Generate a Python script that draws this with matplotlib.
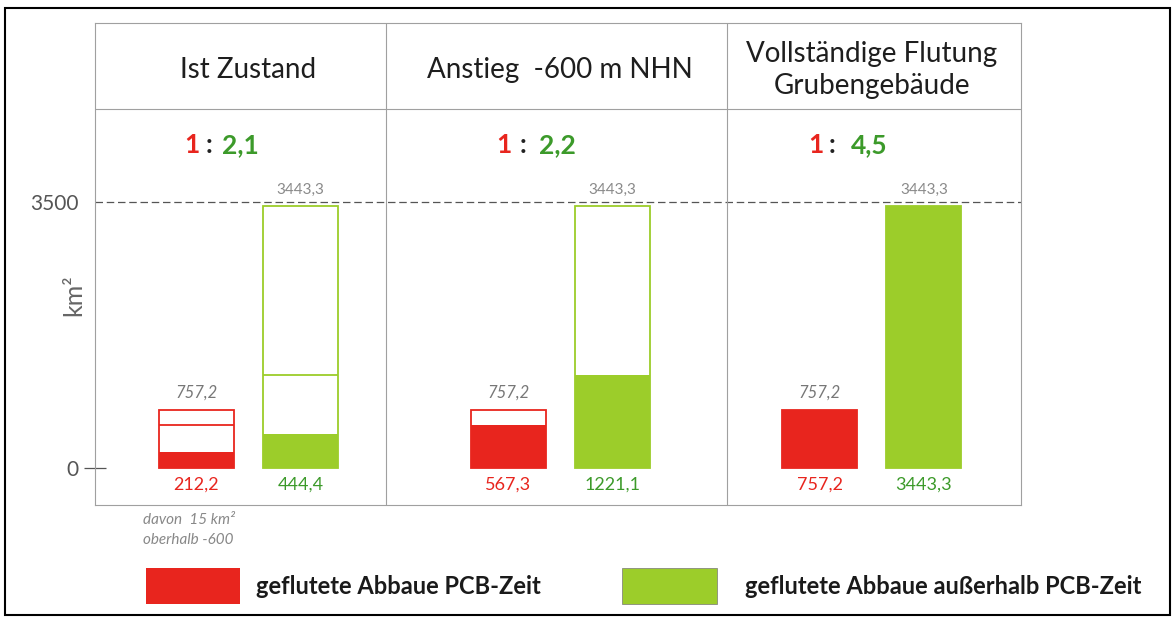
import numpy as np
import matplotlib.pyplot as plt
from matplotlib.patches import Rectangle

# data (km^2)
scenarios = ["Ist Zustand", "Anstieg  -600 m NHN", "Vollständige Flutung\nGrubengebäude"]
pcb_flooded = [212.2, 567.3, 757.2]
other_flooded = [444.4, 1221.1, 3443.3]
pcb_total = [757.2, 757.2, 757.2]
other_total = [3443.3, 3443.3, 3443.3]
pcb_mark = [567.3, None, None]
other_mark = [1221.1, None, None]
ratios = ["2,1", "2,2", "4,5"]
yticks = [0, 3500]
legend_labels = ["geflutete Abbaue PCB-Zeit", "geflutete Abbaue außerhalb PCB-Zeit"]
note_lines = ["davon  15 km²", "oberhalb -600"]

RED = '#e8251e'
GREEN = '#9ccd2a'
DKGREEN = '#3c9a2a'
GRID = '#a0a0a0'
FONT = 'Lato'

W, H = 1173, 620
plt.rcParams['font.family'] = [FONT, 'DejaVu Sans']


def fmt(v):
	return ('%.1f' % v).replace('.', ',')


def fx(p):
	return p / W


def fy(p):
	return 1 - p / H


fig = plt.figure(figsize=(W / 100, H / 100), dpi=100)
ax = fig.add_axes([fx(95), fy(505), (1021 - 95) / W, (505 - 23) / H])
ax.set_xlim(-0.4924, 2.478)
ax.set_ylim(-487, 5855)

x = np.arange(len(scenarios))
off = 0.1668
bw = 0.2406

ax.bar(x - off, pcb_flooded, bw, color=RED, lw=0, zorder=2)
ax.bar(x - off, pcb_total, bw, fill=False, edgecolor=RED, lw=1.3, zorder=3)
ax.bar(x + off, other_flooded, bw, color=GREEN, lw=0, zorder=2)
ax.bar(x + off, other_total, bw, fill=False, edgecolor=GREEN, lw=1.3, zorder=3)
for i in range(len(x)):
	if pcb_mark[i] is not None:
		ax.hlines(pcb_mark[i], x[i] - off - bw / 2, x[i] - off + bw / 2, color=RED, lw=1.3, zorder=3)
	if other_mark[i] is not None:
		ax.hlines(other_mark[i], x[i] + off - bw / 2, x[i] + off + bw / 2, color=GREEN, lw=1.3, zorder=3)

# table lines
for s in ax.spines.values():
	s.set_color(GRID)
	s.set_linewidth(0.8)
ax.axvline(0.441, color=GRID, lw=0.8)
ax.axvline(1.535, color=GRID, lw=0.8)
ax.axhline(4724, color=GRID, lw=0.8)
ax.axhline(3500, color='#555555', lw=0.9, ls=(0, (6, 3)), zorder=1)

ax.set_xticks([])
ax.set_yticks(yticks)
ax.set_yticklabels([str(t) for t in yticks])
ax.tick_params(axis='y', direction='inout', length=16, width=0.9, color='#555555',
	labelsize=15, labelcolor='#555555', pad=4)
ax.yaxis.get_major_ticks()[1].tick1line.set_visible(False)
ax.set_ylabel("km²", fontsize=18, color='#666666')
ax.yaxis.set_label_coords(-0.010, 0.436)

gaps = [(4, 7), (6, 9), (4, 11)]
for i in range(len(x)):
	ax.text(x[i], 5237, scenarios[i], ha='center', va='center', fontsize=20,
		color='#1e1e1e', linespacing=1.25)
	t1 = ax.text(x[i] - 0.205, 4250, "1", ha='left', va='center', fontsize=19,
		fontweight='bold', color=RED)
	t2 = ax.annotate(":", xy=(1, 0), xycoords=t1, xytext=(gaps[i][0], 0), textcoords='offset points',
		ha='left', va='bottom', fontsize=19, fontweight='bold', color='#222222')
	ax.annotate(ratios[i], xy=(1, 0), xycoords=t2, xytext=(gaps[i][1], 0), textcoords='offset points',
		ha='left', va='bottom', fontsize=19, fontweight='bold', color=DKGREEN)

	ax.annotate(fmt(pcb_total[i]), xy=(x[i] - off, pcb_total[i]), xytext=(0, 13),
		textcoords='offset points', ha='center', va='center', fontsize=12,
		style='italic', color='#777777')
	ax.annotate(fmt(other_total[i]), xy=(x[i] + off, other_total[i]), xytext=(0, 12),
		textcoords='offset points', ha='center', va='center', fontsize=11, color='#8a8a8a')
	ax.annotate(fmt(pcb_flooded[i]), xy=(x[i] - off, 0), xytext=(0, -12),
		textcoords='offset points', ha='center', va='center', fontsize=13, color=RED)
	ax.annotate(fmt(other_flooded[i]), xy=(x[i] + off, 0), xytext=(0, -12),
		textcoords='offset points', ha='center', va='center', fontsize=13, color=DKGREEN)

fig.text(fx(143), fy(520), note_lines[0], ha='left', va='center', fontsize=11,
	style='italic', color='#888888')
fig.text(fx(143), fy(540), note_lines[1], ha='left', va='center', fontsize=11,
	style='italic', color='#888888')

# legend
fig.add_artist(Rectangle((fx(146), fy(604)), 94 / W, 36 / H, transform=fig.transFigure,
	facecolor=RED, edgecolor='none'))
fig.text(fx(256), fy(587), legend_labels[0], ha='left', va='center', fontsize=17,
	fontweight='bold', color='#1a1a1a')
fig.add_artist(Rectangle((fx(622), fy(604)), 95 / W, 36 / H, transform=fig.transFigure,
	facecolor=GREEN, edgecolor='#777777', lw=0.5))
fig.text(fx(745), fy(587), legend_labels[1], ha='left', va='center', fontsize=17,
	fontweight='bold', color='#1a1a1a')

# outer frame
fig.add_artist(Rectangle((fx(5), fy(615)), (1170 - 5) / W, (615 - 8) / H,
	transform=fig.transFigure, fill=False, edgecolor='black', lw=1.5))

fig.savefig('out.png', dpi=100)
